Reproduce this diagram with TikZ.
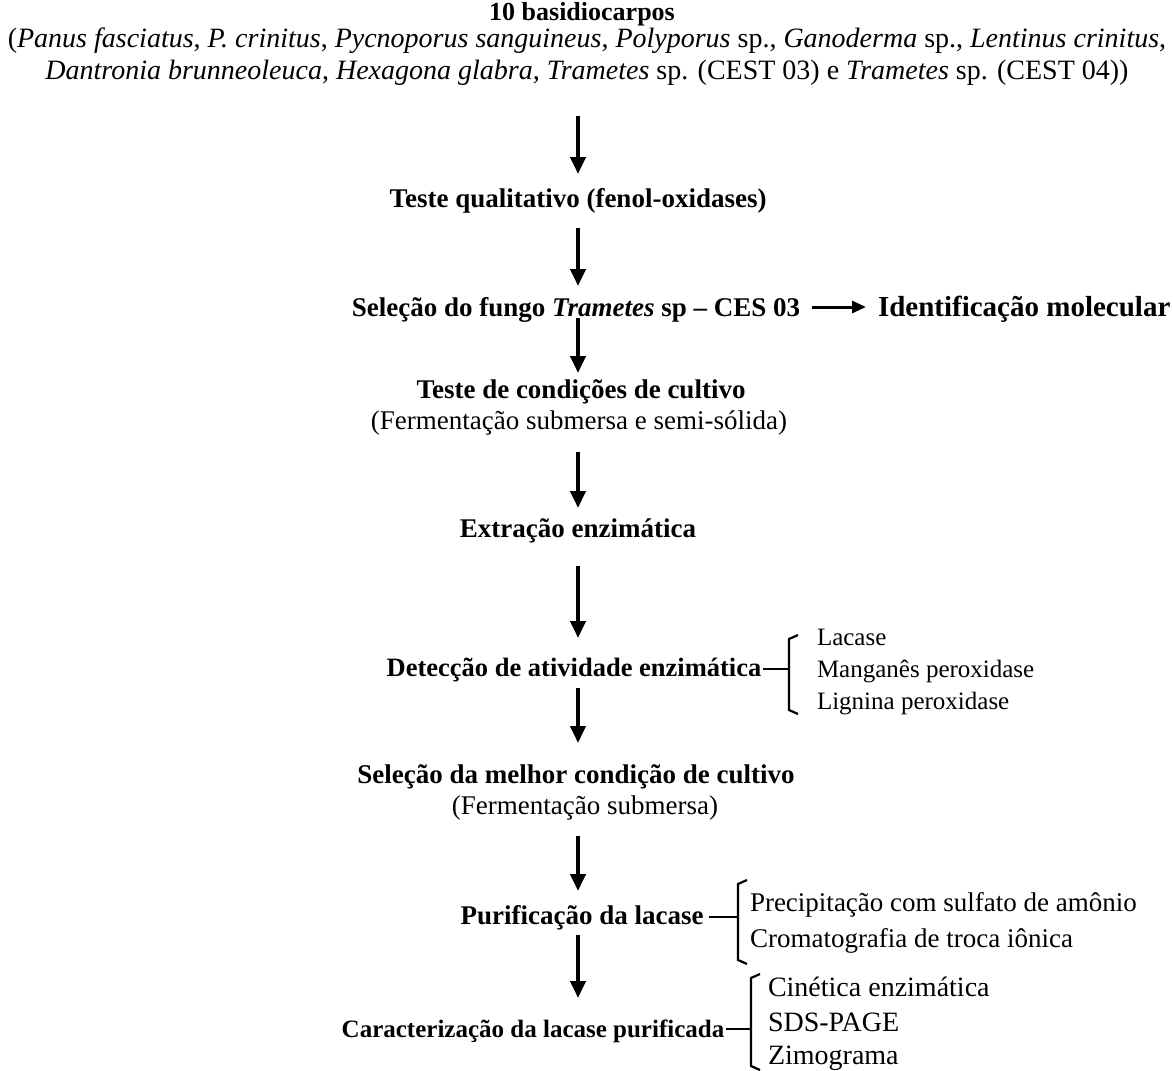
\documentclass[tikz,border=0pt]{standalone}
\usepackage{fontspec}
\setmainfont{Liberation Serif}
\usetikzlibrary{arrows.meta}
\begin{document}
\begin{tikzpicture}[x=1pt,y=-1pt,
  txt/.style={inner sep=0pt, outer sep=0pt, font=\fontsize{27}{32}\selectfont, align=center, anchor=base},
  bstep/.style={txt, font=\fontsize{27}{32}\selectfont\bfseries},
  item/.style={txt, anchor=base west, align=left},
  small/.style={font=\fontsize{25}{32}\selectfont},
  big/.style={font=\fontsize{28}{32}\selectfont},
  flow/.style={line width=4pt, -{Triangle[width=15pt,length=17pt]}},
  brk/.style={line width=2.2pt}
]
\useasboundingbox (0,0) rectangle (1173,1071);

% main steps
\node[bstep, font=\fontsize{26}{32}\selectfont\bfseries] (n0) at (582,20) {10 basidiocarpos};
\node[txt, font=\fontsize{28}{32}\selectfont] (n0b) at (587,79) {(\textit{Panus fasciatus}, \textit{P. crinitus}, \textit{Pycnoporus sanguineus}, \textit{Polyporus} sp., \textit{Ganoderma} sp., \textit{Lentinus crinitus},\\ \textit{Dantronia brunneoleuca}, \textit{Hexagona glabra}, \textit{Trametes} sp. (CEST 03) e \textit{Trametes} sp. (CEST 04))};
\node[bstep] (n1) at (578,207) {Teste qualitativo (fenol-oxidases)};
\node[bstep] (n2) at (576,316) {Seleção do fungo \textit{Trametes} sp – CES 03};
\node[bstep, anchor=base west, font=\fontsize{29}{32}\selectfont\bfseries] (n2r) at (878,316) {Identificação molecular};
\node[bstep] (n3) at (581,398) {Teste de condições de cultivo};
\node[txt] (n3b) at (579,429) {(Fermentação submersa e semi-sólida)};
\node[bstep] (n4) at (578,537) {Extração enzimática};
\node[bstep, font=\fontsize{26.5}{32}\selectfont\bfseries] (n5) at (574,676) {Detecção de atividade enzimática};
\node[bstep] (n6) at (576,783) {Seleção da melhor condição de cultivo};
\node[txt] (n6b) at (585,814) {(Fermentação submersa)};
\node[bstep] (n7) at (582,924) {Purificação da lacase};
\node[bstep, font=\fontsize{25}{32}\selectfont\bfseries] (n8) at (533,1037) {Caracterização da lacase purificada};

% items
\node[item, small] (i51) at (817,645) {Lacase};
\node[item, small] (i52) at (817,677) {Manganês peroxidase};
\node[item, small] (i53) at (817,709) {Lignina peroxidase};
\node[item] (i71) at (750,911) {Precipitação com sulfato de amônio};
\node[item] (i72) at (750,947) {Cromatografia de troca iônica};
\node[item, big] (i81) at (768,996) {Cinética enzimática};
\node[item, big] (i82) at (768,1031) {SDS-PAGE};
\node[item, big] (i83) at (768,1064) {Zimograma};

% arrow ends
\coordinate (a1s) at (578,116); \coordinate (a1e) at (578,174);
\coordinate (a2s) at (578,228); \coordinate (a2e) at (578,286);
\coordinate (a3s) at (578,318); \coordinate (a3e) at (578,373);
\coordinate (a4s) at (578,452); \coordinate (a4e) at (578,508);
\coordinate (a5s) at (578,566); \coordinate (a5e) at (578,638);
\coordinate (a6s) at (578,688); \coordinate (a6e) at (578,743);
\coordinate (a7s) at (578,836); \coordinate (a7e) at (578,891);
\coordinate (a8s) at (578,935); \coordinate (a8e) at (578,998);

\draw[flow] (a1s) -- (a1e);
\draw[flow] (a2s) -- (a2e);
\draw[flow] (a3s) -- (a3e);
\draw[flow] (a4s) -- (a4e);
\draw[flow] (a5s) -- (a5e);
\draw[flow] (a6s) -- (a6e);
\draw[flow] (a7s) -- (a7e);
\draw[flow] (a8s) -- (a8e);

% side arrow
\draw[line width=3pt, -{Triangle[width=12pt,length=14pt]}] ([xshift=12pt,yshift=9pt]n2.base east) -- ([xshift=-12pt,yshift=9pt]n2r.base west);

% brackets
\draw[brk] (n5.base east) ++(2,-7) -- (789,669);
\draw[brk] (798,635) -- (789,639) -- (789,710) -- (798,714);
\draw[brk] (n7.base east) ++(6,-7) -- (738,917);
\draw[brk] (747,880) -- (738,884) -- (738,960) -- (747,964);
\draw[brk] (n8.base east) ++(2,-8) -- (751,1029);
\draw[brk] (760,974) -- (751,978) -- (751,1066) -- (760,1070);
\end{tikzpicture}
\end{document}
